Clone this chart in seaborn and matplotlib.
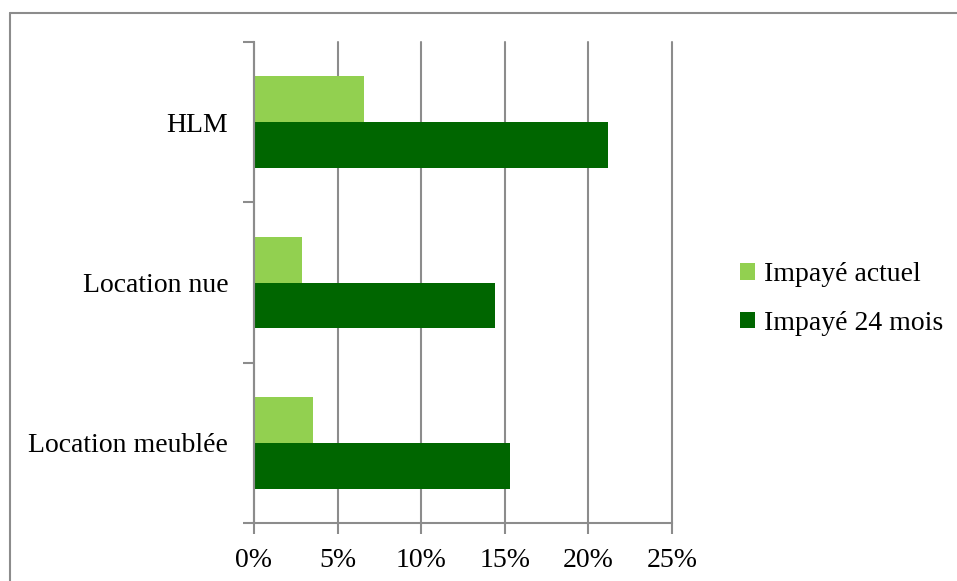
import matplotlib
matplotlib.use("Agg")
import matplotlib.pyplot as plt
from matplotlib.lines import Line2D
from matplotlib.ticker import FuncFormatter, FixedLocator
import seaborn as sns
import pandas as pd

# données (en %)
categories = ["HLM", "Location nue", "Location meublée"]
series = ["Impayé actuel", "Impayé 24 mois"]
impaye_actuel = [6.6, 2.9, 3.5]
impaye_24_mois = [21.2, 14.4, 15.3]
x_ticks = [0, 5, 10, 15, 20, 25]

df = pd.DataFrame({
    "Catégorie": categories * 2,
    "Série": [series[0]] * 3 + [series[1]] * 3,
    "Valeur": impaye_actuel + impaye_24_mois,
})

sns.set_style("white")
plt.rcParams["font.family"] = ["Liberation Serif", "DejaVu Serif"]
plt.rcParams["text.color"] = "black"
plt.rcParams["xtick.labelcolor"] = "black"
plt.rcParams["ytick.labelcolor"] = "black"

grey = "#8c8c8c"
fig = plt.figure(figsize=(9.57, 5.81), dpi=100)
ax = fig.add_axes([254 / 957, 1 - 523 / 581, (672 - 254) / 957, (523 - 42) / 581])

sns.barplot(data=df, x="Valeur", y="Catégorie", hue="Série", order=categories,
            hue_order=series, palette=["#92D050", "#006600"], width=0.57,
            orient="h", ax=ax, saturation=1, edgecolor="none")

ax.set_xlim(0, 25)
ax.set_ylim(2.5, -0.5)
ax.set_xticks(x_ticks)
ax.xaxis.set_major_formatter(FuncFormatter(lambda v, p: f"{v:.0f}%"))
ax.xaxis.grid(True, color=grey, linewidth=1.5)
for gl in ax.get_xgridlines():
    gl.set_clip_on(False)
ax.set_axisbelow(True)
ax.set_xlabel("")
ax.set_ylabel("")

for s in ["top", "right"]:
    ax.spines[s].set_visible(False)
for s in ["left", "bottom"]:
    ax.spines[s].set_color(grey)
    ax.spines[s].set_linewidth(1.5)

ax.tick_params(axis="x", which="major", bottom=True, length=8, width=1.5,
               color=grey, labelsize=20, pad=10)
ax.tick_params(axis="y", which="major", left=False, labelsize=20, pad=15)
ax.yaxis.set_minor_locator(FixedLocator([-0.5, 0.5, 1.5, 2.5]))
ax.tick_params(axis="y", which="minor", left=True, length=8, width=1.5, color=grey)
for lbl in ax.get_yticklabels():
    lbl.set_ha("right")

ax.legend(loc="center left", bbox_to_anchor=(740 / 957, 1 - 299 / 581),
          bbox_transform=fig.transFigure, frameon=False, borderpad=0,
          borderaxespad=0, fontsize=20, handlelength=0.55, handleheight=0.55,
          handletextpad=0.3, labelspacing=0.85)

# cadre extérieur (seuls les bords haut et gauche sont visibles)
fig.add_artist(Line2D([9.5 / 957, 1], [1 - 12.5 / 581] * 2, color=grey, lw=1.5,
                      transform=fig.transFigure))
fig.add_artist(Line2D([9.5 / 957] * 2, [0, 1 - 12.5 / 581], color=grey, lw=1.5,
                      transform=fig.transFigure))

fig.savefig("out.png", dpi=100)
